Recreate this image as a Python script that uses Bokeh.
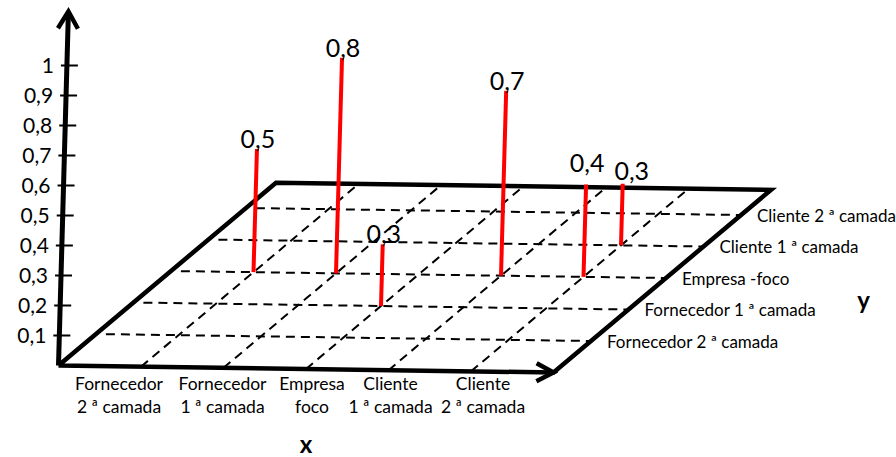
import numpy as np
from bokeh.plotting import figure
from bokeh.models import Range1d
from bokeh.core.properties import value
from bokeh.embed import file_html
from bokeh.resources import INLINE

# ---- data -------------------------------------------------------------
# categories along the x axis (front edge), written on two rows
x_cat_top = ["Fornecedor", "Fornecedor", "Empresa", "Cliente", "Cliente"]
x_cat_bottom = ["2 ª camada", "1 ª camada", "foco", "1 ª camada", "2 ª camada"]

# categories along the y axis (depth of the floor)
y_categories = [
    "Fornecedor 2 ª camada",
    "Fornecedor 1 ª camada",
    "Empresa -foco",
    "Cliente 1 ª camada",
    "Cliente 2 ª camada",
]

# vertical (z) axis ticks
z_ticks = [0.1, 0.2, 0.3, 0.4, 0.5, 0.6, 0.7, 0.8, 0.9, 1.0]
z_tick_labels = ["0,1", "0,2", "0,3", "0,4", "0,5", "0,6", "0,7", "0,8", "0,9", "1"]

# stems: x category index, y category index, value
stem_x = [0, 1, 2, 3, 4, 4]
stem_y = [2, 2, 1, 2, 2, 3]
stem_values = [0.5, 0.8, 0.3, 0.7, 0.4, 0.3]

# ---- layout -----------------------------------------------------------
W, H = 896, 457
FONT = "Lato"
ORIGIN = np.array([58.0, 365.0])          # front-left corner of the floor
EX = np.array([82.5, 1.17])               # one x step on screen
ED = np.array([37.5, -31.5])              # one depth step on screen
NX = len(x_cat_top) + 1                   # floor width in x steps
ND = 5.8                                  # floor depth in depth steps
AXIS_PX, AXIS_TILT = 300.0, 0.028         # z axis scale and lean
STEM_PX, STEM_FLOOR = 308.0, 0.1          # stem scale above the floor plane
X_LABEL_SHIFT = [-22, -1, 6, 2, 12]       # nudges for the front labels
STEM_LABEL_NUDGE = [(0, 0), (0, 0), (0, 0), (0, 0), (0, -11), (8, -3)]


def floor_pt(i, j):
    return ORIGIN + i * EX + j * ED


def axis_pt(v):
    return ORIGIN + v * AXIS_PX * np.array([AXIS_TILT, -1.0])


p = figure(width=W, height=H, x_range=Range1d(0, W), y_range=Range1d(H, 0),
           output_backend="svg", toolbar_location=None, min_border=0,
           x_axis_type=None, y_axis_type=None)
p.grid.visible = False
p.outline_line_color = None
p.background_fill_color = "white"

# dashed grid lines along depth (one per x category)
xs, ys = [], []
for k in range(1, NX):
    a, b = floor_pt(k, 0), floor_pt(k, ND)
    xs.append([a[0], b[0]]); ys.append([a[1], b[1]])
# dashed grid lines across (one per y category)
for j in range(1, len(y_categories) + 1):
    a, b = floor_pt(0.12, j), floor_pt(NX, j)
    xs.append([a[0], b[0]]); ys.append([a[1], b[1]])
p.multi_line(xs, ys, line_color="black", line_width=2, line_dash="9 6")

# floor outline (front edge doubles as the x axis)
corners = [floor_pt(0, 0), floor_pt(NX, 0), floor_pt(NX, ND), floor_pt(0, ND), floor_pt(0, 0)]
p.line([c[0] for c in corners], [c[1] for c in corners], line_color="black",
       line_width=4.5, line_join="miter")

# x axis arrowhead
tip = floor_pt(NX, 0)
d = EX / np.linalg.norm(EX)
n = np.array([-d[1], d[0]])
w1, w2 = tip - 17 * d + 9 * n, tip - 17 * d - 9 * n
p.line([w1[0], tip[0], w2[0]], [w1[1], tip[1], w2[1]], line_color="black",
       line_width=4.5, line_join="miter")

# z axis with arrowhead
ytip = axis_pt(1.18)
p.line([ORIGIN[0], ytip[0]], [ORIGIN[1], ytip[1]], line_color="black", line_width=5)
dz = (ytip - ORIGIN) / np.linalg.norm(ytip - ORIGIN)
nz = np.array([-dz[1], dz[0]])
a1, a2 = ytip - 17 * dz + 10 * nz, ytip - 17 * dz - 10 * nz
p.line([a1[0], ytip[0], a2[0]], [a1[1], ytip[1], a2[1]], line_color="black",
       line_width=4.5, line_join="miter")

# z ticks and labels
tpts = [axis_pt(v) for v in z_ticks]
p.segment([t[0] - 6 for t in tpts], [t[1] for t in tpts],
          [t[0] + 11 for t in tpts], [t[1] for t in tpts],
          line_color="black", line_width=2)
p.text([t[0] - 13 for t in tpts], [t[1] for t in tpts], text=z_tick_labels,
       text_font=value(FONT), text_font_size=value("21px"), text_color="black",
       text_align="right", text_baseline="middle")

# front (x) category labels
fx = [floor_pt(k + 1, 0)[0] + s for k, s in enumerate(X_LABEL_SHIFT)]
p.text(fx, [ORIGIN[1] + 18] * len(fx), text=x_cat_top, text_font=value(FONT),
       text_font_size=value("17.5px"), text_color="black",
       text_align="center", text_baseline="middle")
p.text(fx, [ORIGIN[1] + 41] * len(fx), text=x_cat_bottom, text_font=value(FONT),
       text_font_size=value("17.5px"), text_color="black",
       text_align="center", text_baseline="middle")

# depth (y) category labels at the right edge
rpts = [floor_pt(NX, j + 1) for j in range(len(y_categories))]
p.text([r[0] + 16 for r in rpts], [r[1] for r in rpts], text=y_categories,
       text_font=value(FONT), text_font_size=value("17px"), text_color="black",
       text_align="left", text_baseline="middle")

# axis names
p.text([floor_pt(NX / 2, 0)[0]], [ORIGIN[1] + 78], text=["x"], text_font=value(FONT),
       text_font_size=value("24px"), text_font_style="bold", text_color="black",
       text_align="center", text_baseline="middle")
p.text([W - 33], [floor_pt(NX, 2)[1] - 10], text=["y"], text_font=value(FONT),
       text_font_size=value("24px"), text_font_style="bold", text_color="black",
       text_align="center", text_baseline="middle")

# red stems with value labels
zdir = np.array([AXIS_TILT, -1.0])
bases = [floor_pt(i + 1, j + 1) for i, j in zip(stem_x, stem_y)]
tops = [b + (v - STEM_FLOOR) * STEM_PX * zdir for b, v in zip(bases, stem_values)]
p.segment([b[0] for b in bases], [b[1] for b in bases],
          [t[0] for t in tops], [t[1] for t in tops],
          line_color="#ff0000", line_width=4)
stem_labels = [f"{v:g}".replace(".", ",") for v in stem_values]
p.text([t[0] + 1 + dx for t, (dx, dy) in zip(tops, STEM_LABEL_NUDGE)],
       [t[1] - 10 + dy for t, (dx, dy) in zip(tops, STEM_LABEL_NUDGE)],
       text=stem_labels, text_font=value(FONT), text_font_size=value("25px"),
       text_color="black", text_align="center", text_baseline="alphabetic")

open("out.html", "w").write(file_html(p, INLINE))
